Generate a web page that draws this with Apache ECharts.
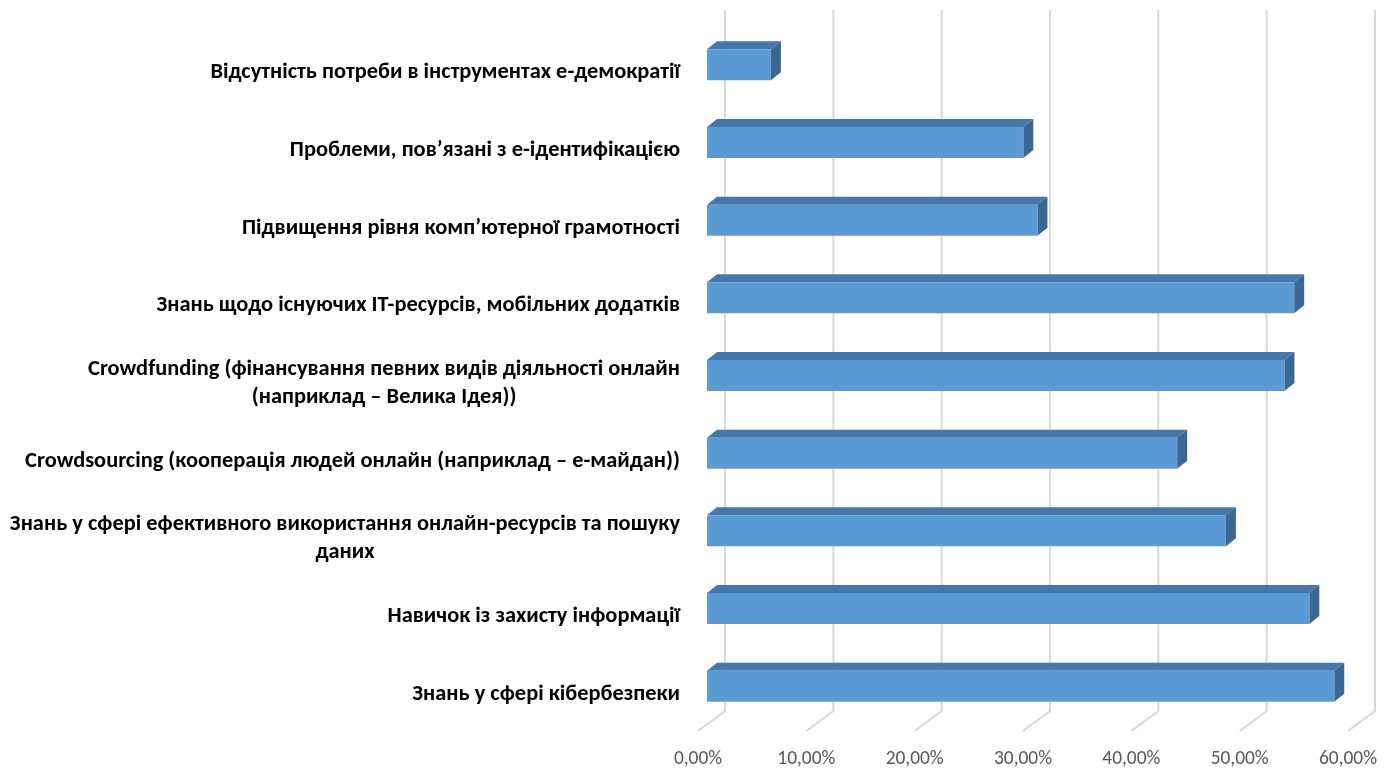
<!DOCTYPE html>
<html>
<head>
<meta charset="utf-8">
<script src="https://cdn.jsdelivr.net/npm/echarts@6/dist/echarts.min.js"></script>
<style>html,body{margin:0;padding:0;background:#fff;}#main{width:1394px;height:769px;}</style>
</head>
<body>
<div id="main"></div>
<script>
// ---- data ----
const categories = [
  'Відсутність потреби в інструментах е-демократії',
  'Проблеми, пов’язані з е-ідентифікацією',
  'Підвищення рівня комп’ютерної грамотності',
  'Знань щодо існуючих ІТ-ресурсів, мобільних додатків',
  'Crowdfunding (фінансування певних видів діяльності онлайн\n(наприклад – Велика Ідея))',
  'Crowdsourcing (кооперація людей онлайн (наприклад – е-майдан))',
  'Знань у сфері ефективного використання онлайн-ресурсів та пошуку\nданих',
  'Навичок із захисту інформації',
  'Знань у сфері кібербезпеки'
];
const values = [5.9, 29.2, 30.5, 54.2, 53.3, 43.4, 47.9, 55.6, 57.9];
const ticks = [0, 10, 20, 30, 40, 50, 60];

// ---- style ----
const FRONT = '#5b9bd5', TOP = '#4677a8', SIDE = '#3a6892';
const DX = 10, DY = 8;
const LABEL_FONT = 'Carlito, "Liberation Sans Narrow", sans-serif';

const chart = echarts.init(document.getElementById('main'), null, {renderer: 'canvas'});

const richStyles = {
  a: {align: 'center', fontFamily: LABEL_FONT, fontWeight: 'bold', fontSize: 22.4, color: '#000', lineHeight: 28}
};

chart.setOption({
  backgroundColor: '#fff',
  animation: false,
  grid: {left: 707, width: 650, top: 26, height: 700},
  xAxis: {
    type: 'value', min: 0, max: 60, interval: 10,
    axisLine: {show: false}, axisTick: {show: false}, splitLine: {show: false},
    axisLabel: {
      color: '#595959', fontFamily: LABEL_FONT, fontSize: 19.4, margin: 25,
      padding: [0, 18, 0, 0],
      formatter: v => v.toFixed(2).replace('.', ',') + '%'
    }
  },
  yAxis: {
    type: 'category', data: categories, inverse: true,
    axisLine: {show: false}, axisTick: {show: false}, splitLine: {show: false},
    axisLabel: {
      margin: 27, interval: 0,
      padding: [16, 0, 0, 0],
      fontFamily: LABEL_FONT, fontWeight: 'bold', fontSize: 22.4, color: '#000', lineHeight: 28,
      formatter: v => v.split('\n').map(s => '{a|' + s + '}').join('\n'),
      rich: richStyles
    }
  },
  series: [
    {
      type: 'custom', z: 1, silent: true,
      data: ticks.map(t => [t, 0]),
      encode: {x: 0, y: 1},
      renderItem: (params, api) => {
        const cs = params.coordSys;
        const x = api.coord([api.value(0), 0])[0];
        const yTop = cs.y - 16, yBot = cs.y + cs.height - 14, yFront = cs.y + cs.height + 6;
        return {
          type: 'polyline',
          shape: {points: [[x + 18, yTop], [x + 18, yBot], [x - 9, yFront]]},
          style: {stroke: '#d9d9d9', lineWidth: 2, fill: null}
        };
      }
    },
    {
      type: 'custom', z: 2,
      data: values.map((v, i) => [v, i]),
      encode: {x: 0, y: 1},
      renderItem: (params, api) => {
        const v = api.value(0), idx = api.value(1);
        const p0 = api.coord([0, idx]);
        const p1 = api.coord([v, idx]);
        const h = api.size([0, 1])[1] * 0.4;
        const x0 = p0[0], x1 = p1[0];
        const yT = p0[1] - h / 2, yB = p0[1] + h / 2;
        return {
          type: 'group',
          children: [
            {type: 'polygon', shape: {points: [[x0, yT], [x0 + DX, yT - DY], [x1 + DX, yT - DY], [x1, yT]]},
             style: {fill: TOP}},
            {type: 'polygon', shape: {points: [[x1, yT], [x1 + DX, yT - DY], [x1 + DX, yB - DY], [x1, yB]]},
             style: {fill: SIDE}},
            {type: 'rect', shape: {x: x0, y: yT, width: x1 - x0, height: h},
             style: {fill: FRONT}}
          ]
        };
      }
    }
  ]
});
</script>
</body>
</html>
